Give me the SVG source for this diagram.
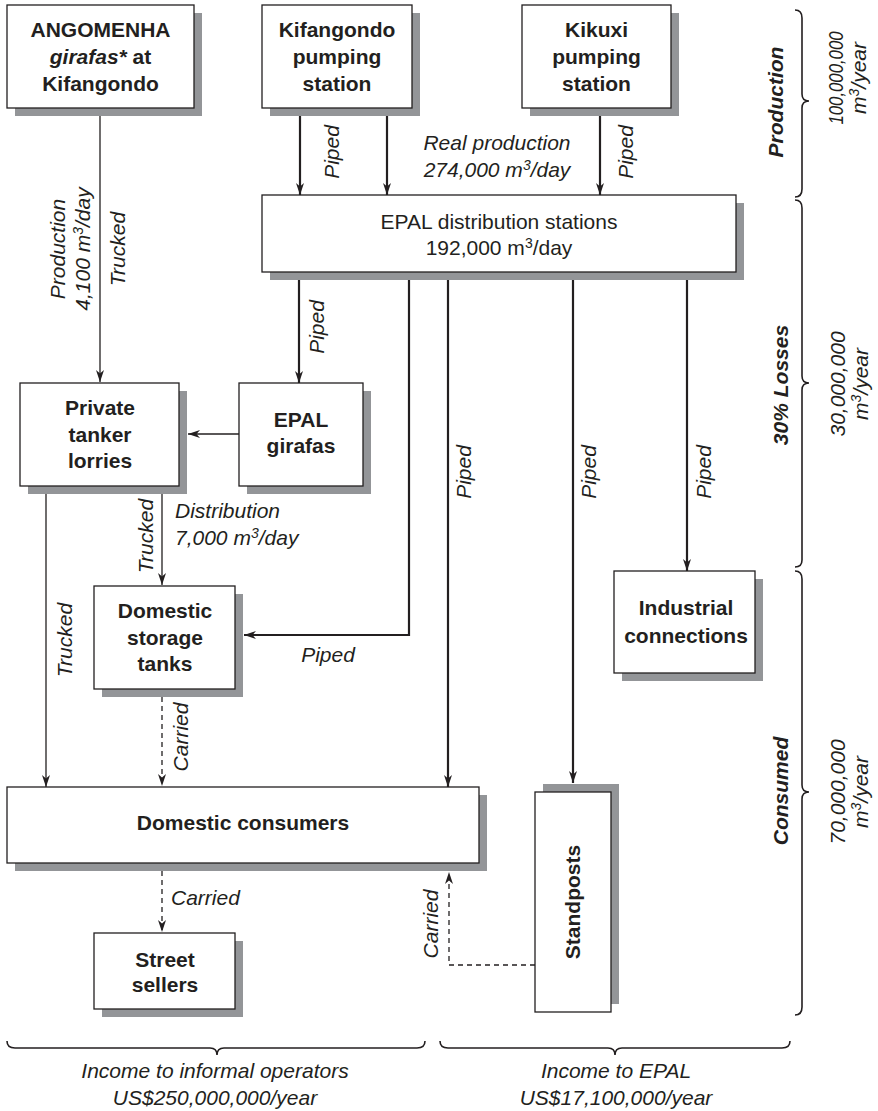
<svg xmlns="http://www.w3.org/2000/svg" width="878" height="1111" viewBox="0 0 878 1111">
<defs>
<style>
.sh{fill:#939598}
.bx{fill:#fff;stroke:#231f20;stroke-width:1.3}
text{font-family:"Liberation Sans",Arial,Helvetica,sans-serif;font-size:21px;fill:#231f20}
.b{font-weight:bold;text-anchor:middle}
.r{text-anchor:middle}
.i{font-style:italic;text-anchor:middle}
.is{font-style:italic;text-anchor:start}
.bi{font-weight:bold;font-style:italic;text-anchor:middle}
.p{stroke:#231f20;stroke-width:2.2;fill:none}
.t{stroke:#231f20;stroke-width:1.3;fill:none}
.d{stroke:#231f20;stroke-width:1.3;fill:none;stroke-dasharray:5 4}
.br{stroke:#231f20;stroke-width:1.6;fill:none}
</style>
<marker id="ah" viewBox="0 0 12 8" refX="12" refY="4" markerWidth="12" markerHeight="8" markerUnits="userSpaceOnUse" orient="auto">
<path d="M12,4 L0,0 L3.5,4 L0,8 Z" fill="#231f20"/>
</marker>
</defs>

<g id="connectors">
<line class="t" x1="100" y1="116" x2="100" y2="382" marker-end="url(#ah)"/>
<line class="p" x1="300" y1="116" x2="300" y2="195" marker-end="url(#ah)"/>
<line class="p" x1="387" y1="116" x2="387" y2="195" marker-end="url(#ah)"/>
<line class="p" x1="600" y1="116" x2="600" y2="195" marker-end="url(#ah)"/>
<line class="p" x1="299" y1="280" x2="299" y2="383" marker-end="url(#ah)"/>
<line class="t" x1="239" y1="434" x2="188" y2="434" marker-end="url(#ah)"/>
<line class="t" x1="162" y1="494" x2="162" y2="585" marker-end="url(#ah)"/>
<line class="t" x1="46" y1="494" x2="46" y2="787" marker-end="url(#ah)"/>
<polyline class="p" points="409,280 409,635 244,635" marker-end="url(#ah)"/>
<line class="p" x1="448" y1="280" x2="448" y2="787" marker-end="url(#ah)"/>
<line class="p" x1="573" y1="280" x2="573" y2="783" marker-end="url(#ah)"/>
<line class="p" x1="687" y1="280" x2="687" y2="571" marker-end="url(#ah)"/>
<line class="d" x1="162" y1="697" x2="162" y2="786" marker-end="url(#ah)"/>
<line class="d" x1="162" y1="871" x2="162" y2="932" marker-end="url(#ah)"/>
<polyline class="d" points="535,965 449,965 449,872" marker-end="url(#ah)"/>

<text class="i" transform="translate(65,249) rotate(-90)">Production</text>
<text class="i" transform="translate(90,249) rotate(-90)">4,100 m<tspan dy="-7" font-size="14">3</tspan><tspan dy="7">/day</tspan></text>
<text class="i" transform="translate(125,249) rotate(-90)">Trucked</text>
<text class="i" transform="translate(339,152) rotate(-90)">Piped</text>
<text class="i" transform="translate(633,152) rotate(-90)">Piped</text>
<text class="i" x="497" y="150">Real production</text>
<text class="i" x="497" y="177">274,000 m<tspan dy="-7" font-size="14">3</tspan><tspan dy="7">/day</tspan></text>
<text class="i" transform="translate(324,327) rotate(-90)">Piped</text>
<text class="i" transform="translate(153,536) rotate(-90)">Trucked</text>
<text class="is" x="175" y="518">Distribution</text>
<text class="is" x="175" y="545">7,000 m<tspan dy="-7" font-size="14">3</tspan><tspan dy="7">/day</tspan></text>
<text class="i" transform="translate(72,640) rotate(-90)">Trucked</text>
<text class="i" x="328" y="662">Piped</text>
<text class="i" transform="translate(471,472) rotate(-90)">Piped</text>
<text class="i" transform="translate(596,472) rotate(-90)">Piped</text>
<text class="i" transform="translate(711,472) rotate(-90)">Piped</text>
<text class="i" transform="translate(188,737) rotate(-90)">Carried</text>
<text class="is" x="171" y="905">Carried</text>
<text class="i" transform="translate(438,924) rotate(-90)">Carried</text>
</g>

<g id="angomenha">
<rect class="sh" x="15" y="13" width="187" height="103"/>
<rect class="bx" x="7" y="5" width="187" height="103"/>
<text class="b" x="100.5" y="37">ANGOMENHA</text>
<text class="b" x="100.5" y="64"><tspan font-style="italic">girafas*</tspan> at</text>
<text class="b" x="100.5" y="91">Kifangondo</text>
</g>

<g id="kifangondo">
<rect class="sh" x="270" y="13" width="150" height="103"/>
<rect class="bx" x="262" y="5" width="150" height="103"/>
<text class="b" x="337" y="37">Kifangondo</text>
<text class="b" x="337" y="64">pumping</text>
<text class="b" x="337" y="91">station</text>
</g>

<g id="kikuxi">
<rect class="sh" x="530" y="13" width="149" height="103"/>
<rect class="bx" x="522" y="5" width="149" height="103"/>
<text class="b" x="596.5" y="37">Kikuxi</text>
<text class="b" x="596.5" y="64">pumping</text>
<text class="b" x="596.5" y="91">station</text>
</g>

<g id="epal-distribution">
<rect class="sh" x="270" y="203" width="474" height="77"/>
<rect class="bx" x="262" y="195" width="474" height="77"/>
<text class="r" x="499" y="229">EPAL distribution stations</text>
<text class="r" x="499" y="255">192,000 m<tspan dy="-7" font-size="14">3</tspan><tspan dy="7">/day</tspan></text>
</g>

<g id="private-tanker-lorries">
<rect class="sh" x="28" y="391" width="159" height="103"/>
<rect class="bx" x="20" y="383" width="159" height="103"/>
<text class="b" x="100" y="415">Private</text>
<text class="b" x="100" y="442">tanker</text>
<text class="b" x="100" y="468">lorries</text>
</g>

<g id="epal-girafas">
<rect class="sh" x="247" y="391" width="124" height="103"/>
<rect class="bx" x="239" y="383" width="124" height="103"/>
<text class="b" x="301" y="427">EPAL</text>
<text class="b" x="301" y="453">girafas</text>
</g>

<g id="domestic-storage-tanks">
<rect class="sh" x="102" y="594" width="141" height="103"/>
<rect class="bx" x="94" y="586" width="141" height="103"/>
<text class="b" x="165" y="618">Domestic</text>
<text class="b" x="165" y="645">storage</text>
<text class="b" x="165" y="671">tanks</text>
</g>

<g id="industrial-connections">
<rect class="sh" x="622" y="579" width="141" height="102"/>
<rect class="bx" x="614" y="571" width="141" height="102"/>
<text class="b" x="686" y="615">Industrial</text>
<text class="b" x="686" y="643">connections</text>
</g>

<g id="domestic-consumers">
<rect class="sh" x="15" y="795" width="472" height="76"/>
<rect class="bx" x="7" y="787" width="472" height="76"/>
<text class="b" x="243" y="830">Domestic consumers</text>
</g>

<g id="standposts">
<rect class="sh" x="543" y="784" width="76" height="220"/>
<rect class="bx" x="535" y="792" width="76" height="220"/>
<text class="b" transform="translate(580,902) rotate(-90)">Standposts</text>
</g>

<g id="street-sellers">
<rect class="sh" x="102" y="941" width="141" height="76"/>
<rect class="bx" x="94" y="933" width="141" height="76"/>
<text class="b" x="165" y="967">Street</text>
<text class="b" x="165" y="992">sellers</text>
</g>

<g id="side-braces">
<path class="br" d="M795,10 Q802,10 802,18 L802,94 Q802,101 809,101 Q802,101 802,108 L802,189 Q802,197 795,197"/>
<path class="br" d="M795,200 Q802,200 802,208 L802,376 Q802,383 809,383 Q802,383 802,390 L802,560 Q802,567 795,567"/>
<path class="br" d="M795,571 Q802,571 802,579 L802,785 Q802,792 809,792 Q802,792 802,799 L802,1007 Q802,1015 795,1015"/>
<text class="bi" transform="translate(783,102) rotate(-90)">Production</text>
<text class="i" transform="translate(843,78) rotate(-90)" textLength="93" lengthAdjust="spacingAndGlyphs">100,000,000</text>
<text class="i" transform="translate(866,78) rotate(-90)">m<tspan dy="-7" font-size="14">3</tspan><tspan dy="7">/year</tspan></text>
<text class="bi" transform="translate(788,385) rotate(-90)">30% Losses</text>
<text class="i" transform="translate(845,384) rotate(-90)">30,000,000</text>
<text class="i" transform="translate(868,384) rotate(-90)">m<tspan dy="-7" font-size="14">3</tspan><tspan dy="7">/year</tspan></text>
<text class="bi" transform="translate(788,791) rotate(-90)">Consumed</text>
<text class="i" transform="translate(845,792) rotate(-90)">70,000,000</text>
<text class="i" transform="translate(868,792) rotate(-90)">m<tspan dy="-7" font-size="14">3</tspan><tspan dy="7">/year</tspan></text>
</g>

<g id="bottom-braces">
<path class="br" d="M7,1041 Q7,1048 15,1048 L210,1048 Q217,1048 217,1055 Q217,1048 224,1048 L417,1048 Q425,1048 425,1041"/>
<path class="br" d="M440,1041 Q440,1048 448,1048 L608,1048 Q615,1048 615,1055 Q615,1048 622,1048 L782,1048 Q790,1048 790,1041"/>
<text class="i" x="215" y="1078">Income to informal operators</text>
<text class="i" x="215" y="1105">US$250,000,000/year</text>
<text class="i" x="616" y="1078">Income to EPAL</text>
<text class="i" x="616" y="1105">US$17,100,000/year</text>
</g>
</svg>
